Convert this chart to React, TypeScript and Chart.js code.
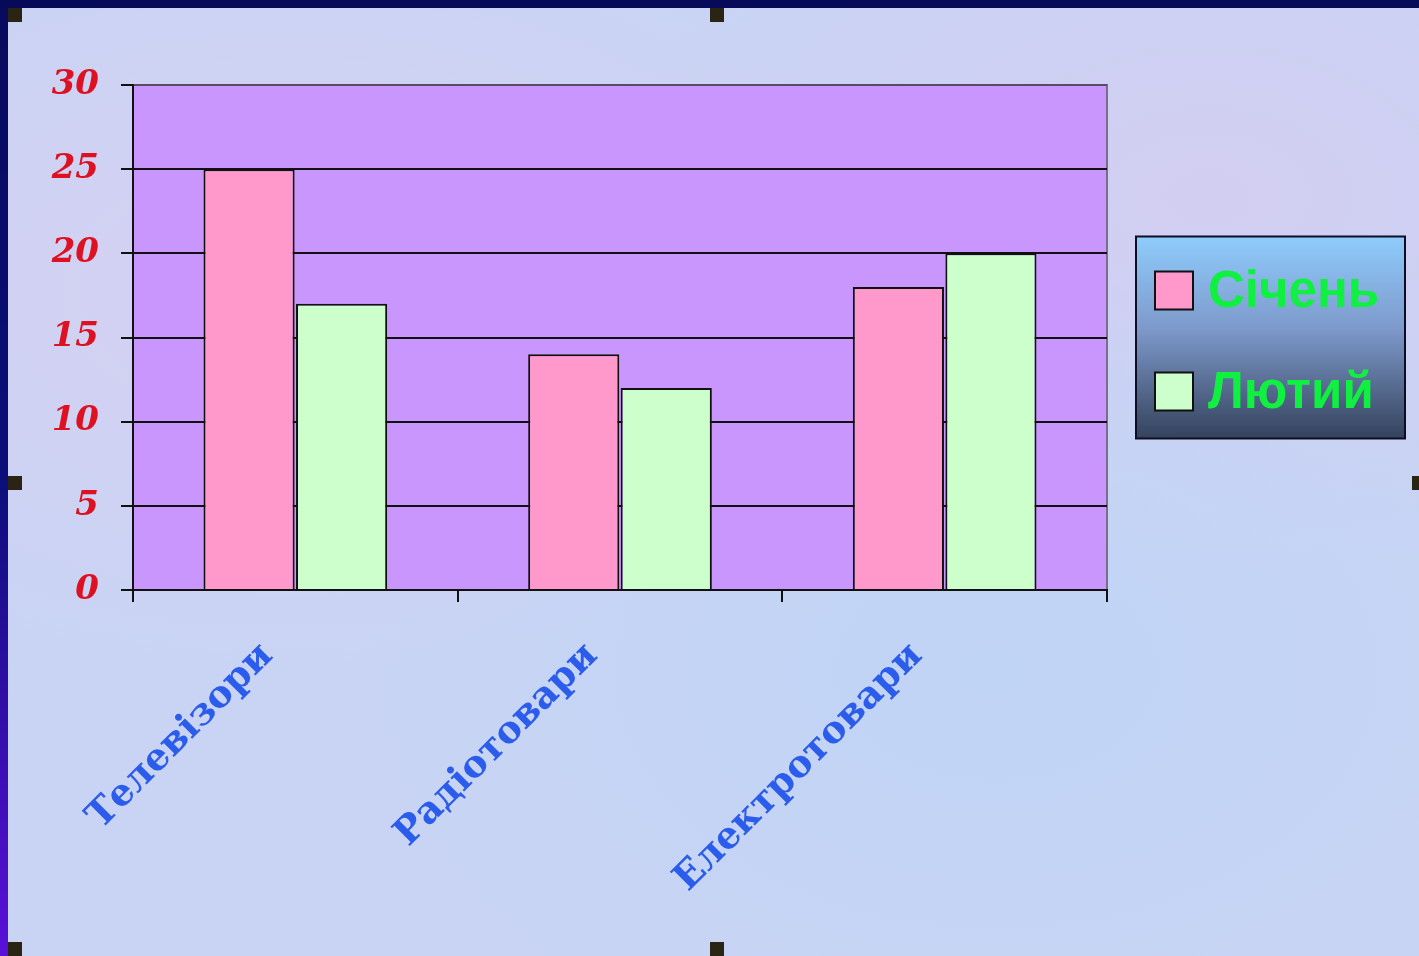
import React, { useEffect, useRef } from "react";
import { Chart, registerables } from "chart.js";
Chart.register(...registerables);

const categories = ["Телевізори", "Радіотовари", "Електротовари"];
const seriesNames = ["Січень", "Лютий"];
const january = [25, 14, 18];
const february = [17, 12, 20];
const yMin = 0;
const yMax = 30;
const yStep = 5;

const plotBgPlugin = {
  id: "plotBg",
  beforeDraw(chart: any) {
    const { ctx, chartArea } = chart;
    ctx.save();
    ctx.fillStyle = "#C996FD";
    ctx.fillRect(chartArea.left, chartArea.top, chartArea.right - chartArea.left, chartArea.bottom - chartArea.top);
    ctx.strokeStyle = "#7C6C8C";
    ctx.lineWidth = 2;
    ctx.strokeRect(chartArea.left, chartArea.top, chartArea.right - chartArea.left, chartArea.bottom - chartArea.top);
    ctx.restore();
  },
};

const boxLegendPlugin = {
  id: "boxLegend",
  afterDraw(chart: any) {
    const { ctx, chartArea } = chart;
    const w = 269;
    const h = 202;
    const left = chartArea.right + 29;
    const top = (chartArea.top + chartArea.bottom) / 2 - h / 2;
    ctx.save();
    const g = ctx.createLinearGradient(0, top, 0, top + h);
    g.addColorStop(0, "#8ECCFC");
    g.addColorStop(0.45, "#7E9ACC");
    g.addColorStop(1, "#34425C");
    ctx.fillStyle = g;
    ctx.fillRect(left, top, w, h);
    ctx.strokeStyle = "#0E0E22";
    ctx.lineWidth = 2;
    ctx.strokeRect(left, top, w, h);
    chart.data.datasets.forEach((ds: any, i: number) => {
      const cy = top + 54 + i * 101;
      ctx.fillStyle = ds.backgroundColor;
      ctx.fillRect(left + 19, cy - 19, 38, 38);
      ctx.strokeStyle = "#111";
      ctx.lineWidth = 2;
      ctx.strokeRect(left + 19, cy - 19, 38, 38);
      ctx.fillStyle = "#10F040";
      ctx.font = 'bold 51px "Liberation Sans", Arial, sans-serif';
      ctx.textBaseline = "middle";
      ctx.textAlign = "left";
      ctx.fillText(ds.label, left + 72, cy + 2);
    });
    ctx.restore();
  },
};

function ChartView() {
  const ref = useRef<HTMLCanvasElement | null>(null);
  useEffect(() => {
    if (!ref.current) return;
    const chart = new Chart(ref.current, {
      type: "bar",
      data: {
        labels: categories,
        datasets: [
          {
            label: seriesNames[0],
            data: january,
            backgroundColor: "#FF99CC",
            borderColor: "#111111",
            borderWidth: 2,
            borderSkipped: "bottom",
          },
          {
            label: seriesNames[1],
            data: february,
            backgroundColor: "#CCFFCC",
            borderColor: "#111111",
            borderWidth: 2,
            borderSkipped: "bottom",
          },
        ],
      },
      options: {
        responsive: false,
        animation: false,
        events: [],
        layout: { padding: { top: 77, left: 0, right: 312, bottom: 0 } },
        datasets: { bar: { categoryPercentage: 0.57, barPercentage: 0.985 } },
        plugins: {
          legend: { display: false },
          tooltip: { enabled: false },
          title: { display: false },
        },
        scales: {
          x: {
            offset: true,
            afterFit: (s: any) => {
              s.height = 366;
            },
            grid: {
              display: true,
              offset: true,
              drawOnChartArea: false,
              drawTicks: true,
              tickLength: 12,
              color: "#111111",
              lineWidth: 2,
            },
            border: { display: true, color: "#111111", width: 2 },
            ticks: {
              autoSkip: false,
              minRotation: 45,
              maxRotation: 45,
              padding: 32,
              labelOffset: -28,
              color: "#2B5CEB",
              font: { family: '"DejaVu Serif", serif', weight: "bold", size: 37.5 },
            },
          },
          y: {
            min: yMin,
            max: yMax,
            afterFit: (s: any) => {
              s.width = 125;
            },
            grid: {
              color: (c: any) => (c.tick && c.tick.value === yMax ? "#5A4A6A" : "#111111"),
              tickColor: "#111111",
              lineWidth: 2,
              tickLength: 12,
              drawTicks: true,
            },
            border: { display: true, color: "#111111", width: 2 },
            ticks: {
              stepSize: yStep,
              padding: 22,
              color: "#DD1122",
              font: { family: '"DejaVu Serif", serif', weight: "bold", style: "italic", size: 34 },
            },
          },
        },
      },
      plugins: [plotBgPlugin, boxLegendPlugin],
    });
    return () => chart.destroy();
  }, []);
  return <canvas ref={ref} width={1411} height={948} style={{ width: 1411, height: 948, display: "block" }} />;
}

const handle = (left: number, top: number) => (
  <div style={{ position: "absolute", left, top, width: 14, height: 14, background: "#2A2414" }} />
);

export default function App() {
  return (
    <div
      style={{
        position: "fixed",
        inset: 0,
        background: "linear-gradient(180deg, #070A5C 0%, #0B0E7A 50%, #5A10D8 100%)",
        overflow: "hidden",
      }}
    >
      <div style={{ position: "absolute", left: 0, top: 0, right: 0, height: 8, background: "#060A58" }} />
      <div
        style={{
          position: "absolute",
          left: 8,
          top: 8,
          width: 1411,
          height: 948,
          background:
            "radial-gradient(ellipse at 20% 30%, #D6D0F2 0%, rgba(214,208,242,0) 40%), radial-gradient(ellipse at 70% 70%, #C0D4F6 0%, rgba(192,212,246,0) 45%), radial-gradient(ellipse at 85% 20%, #D2CEF2 0%, rgba(210,206,242,0) 35%), #C9D4F4",
        }}
      >
        <ChartView />
      </div>
      {handle(8, 8)}
      {handle(710, 8)}
      {handle(8, 476)}
      {handle(1412, 476)}
      {handle(8, 942)}
      {handle(710, 942)}
    </div>
  );
}
